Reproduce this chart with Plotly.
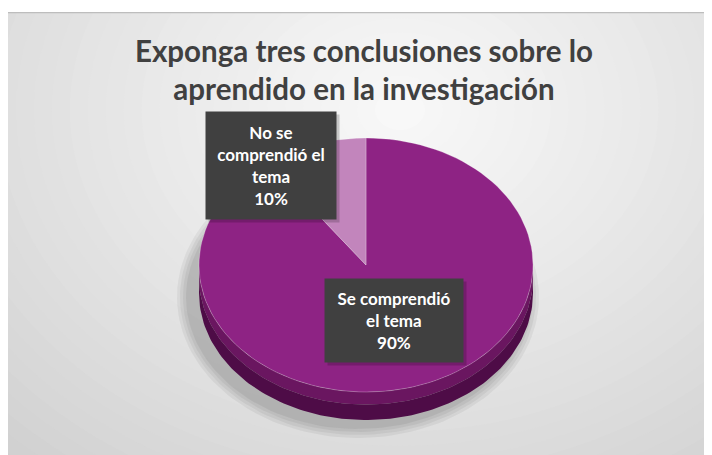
import numpy as np
import plotly.graph_objects as go

# ---- data ----
categories = ["Se comprendió el tema", "No se comprendió el tema"]
label_lines = ["Se comprendió<br>el tema", "No se<br>comprendió el<br>tema"]
values = [90, 10]
colors = ["#8E2384", "#C285BC"]
title_text = "Exponga tres conclusiones sobre lo<br>aprendido en la investigación"

# ---- geometry (screen-pixel-like data space; page body has 8px margin) ----
W, H = 712, 455
BODY = 8
X0, Y0 = 8, 12
XR = [BODY, BODY + W]          # plot area spans full figure width
YR = [Y0 + (H - (Y0 - BODY)), Y0]
cx, cy, rx, ry, thick = 366, 265, 167, 127, 28

def arc(t0, t1, dy=0, n=120):
    t = np.radians(np.linspace(t0, t1, n))
    return cx + rx * np.sin(t), cy + dy - ry * np.cos(t)

fig = go.Figure()

# background radial gradient (clipped to plot area)
shapes = []
base = np.array([194, 194, 194])
light = np.array([248, 248, 248])
N = 40
gx, gy = 400, 110
for i in range(N):
    f = i / (N - 1)
    r = 560 * (1 - f) + 20
    c = base + (light - base) * (f ** 0.8)
    shapes.append(dict(type="circle", xref="x", yref="y",
                       x0=gx - r * 1.25, x1=gx + r * 1.25, y0=gy - r, y1=gy + r,
                       fillcolor="rgb(%d,%d,%d)" % tuple(c.astype(int)),
                       line=dict(width=0), layer="below"))
shapes.append(dict(type="line", xref="x", yref="y", x0=XR[0], x1=XR[1], y0=Y0 + 0.5, y1=Y0 + 0.5,
                   line=dict(color="#BDBDBD", width=1.5), layer="above"))

# soft shadow under pie
tt = np.radians(np.linspace(0, 360, 160))
for k, a in enumerate([0.05, 0.05, 0.05, 0.06]):
    g = 14 - 3 * k
    fig.add_trace(go.Scatter(
        x=cx - 8 + (rx + g) * np.sin(tt),
        y=cy + thick + 4 - (ry + g) * np.cos(tt),
        fill="toself", fillcolor="rgba(0,0,0,%.2f)" % a, line=dict(width=0),
        mode="lines", hoverinfo="skip", showlegend=False))

# side of the pie (front half), shaded bands
bands = [(0.0, 0.45, "#6A1660"), (0.45, 1.0, "#4E0C47")]
for b0, b1, col in bands:
    xa, ya = arc(90, 270, dy=thick * b0)
    xb, yb = arc(270, 90, dy=thick * b1)
    fig.add_trace(go.Scatter(x=np.concatenate([xa, xb]), y=np.concatenate([ya, yb]),
                             fill="toself", fillcolor=col, line=dict(width=0),
                             mode="lines", hoverinfo="skip", showlegend=False))

# top face slices from values
total = sum(values)
start = 0.0
for cat, v, col in zip(categories, values, colors):
    span = 360.0 * v / total
    xa, ya = arc(start, start + span)
    fig.add_trace(go.Scatter(x=np.concatenate([[cx], xa, [cx]]),
                             y=np.concatenate([[cy], ya, [cy]]),
                             fill="toself", fillcolor=col,
                             line=dict(width=1, color="rgba(255,255,255,0.25)"),
                             mode="lines", name=cat, showlegend=False,
                             hoverinfo="name"))
    start += span

# data labels
label_pos = [(394, 320, 136, 81), (271, 165, 128, 105)]
for lbl, v, (lx, ly, bw, bh) in zip(label_lines, values, label_pos):
    pct = round(100 * v / total)
    fig.add_annotation(x=lx + 3, y=ly + 3, xref="x", yref="y", text="", showarrow=False,
                       width=bw, height=bh, bgcolor="rgba(0,0,0,0.18)")
    fig.add_annotation(x=lx, y=ly, xref="x", yref="y",
                       text="<b>%s<br>%d%%</b>" % (lbl, pct),
                       showarrow=False, width=bw, height=bh, bgcolor="#404040",
                       font=dict(family="Lato", size=17, color="white"),
                       align="center", valign="middle")

# title
fig.add_annotation(x=364, y=69, xref="x", yref="y", text="<b>%s</b>" % title_text,
                   showarrow=False, font=dict(family="Lato", size=29.5, color="#404040"),
                   align="center", yanchor="middle")

fig.update_layout(
    width=W, height=H, margin=dict(l=0, r=0, t=Y0 - BODY, b=0),
    paper_bgcolor="white", plot_bgcolor="#D8D8D8",
    shapes=shapes,
    xaxis=dict(range=XR, visible=False, fixedrange=True),
    yaxis=dict(range=YR, visible=False, fixedrange=True),
    showlegend=False,
)
fig.write_html("out.html")
